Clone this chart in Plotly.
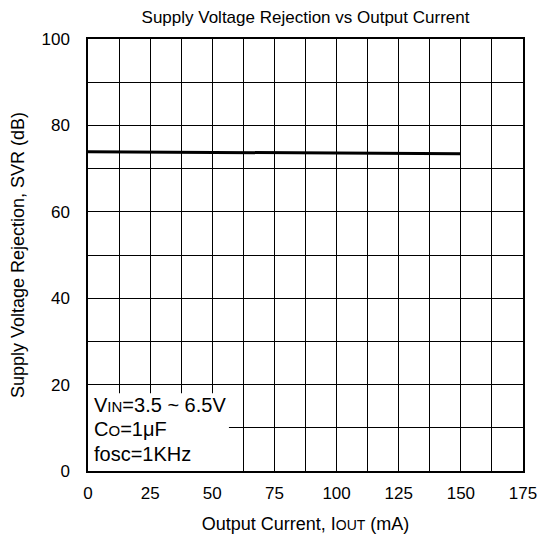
import plotly.graph_objects as go

iout_ma = [0, 12.5, 25, 37.5, 50, 62.5, 75, 87.5, 100, 112.5, 125, 137.5, 150]
svr_db = [73.9, 73.85, 73.8, 73.8, 73.7, 73.65, 73.6, 73.6, 73.55, 73.5, 73.5, 73.45, 73.45]

FONT = "Arial, Liberation Sans, sans-serif"

fig = go.Figure()
fig.add_trace(go.Scatter(x=iout_ma, y=svr_db, mode="lines",
                         line=dict(color="black", width=3), showlegend=False))

L, R, T, B = 88, 24, 39, 66
W, H = 547, 537
pw, ph = W - L - R, H - T - B

def px(x):
    return (x - L) / pw

def py(y):
    return (H - B - y) / ph

fig.add_shape(type="rect", xref="x", yref="y", x0=0, x1=56.7, y0=0, y1=18,
              fillcolor="white", line=dict(width=0), layer="between")

lines = ["V<span style='font-size:15px'>IN</span>=3.5 ~ 6.5V",
         "C<span style='font-size:15px'>O</span>=1μF",
         "fosc=1KHz"]
baselines = [413, 437, 462]
for t, bl in zip(lines, baselines):
    fig.add_annotation(text=t, xref="paper", yref="paper", x=px(92), y=py(bl + 5),
                       xanchor="left", yanchor="bottom", showarrow=False,
                       font=dict(family=FONT, size=20, color="black"))

fig.update_layout(
    width=W, height=H,
    margin=dict(l=L, r=R, t=T, b=B),
    paper_bgcolor="white", plot_bgcolor="white",
    font=dict(family=FONT, size=17, color="black"),
    title=dict(text="Supply Voltage Rejection vs Output Current",
               x=(L + pw / 2) / W, xanchor="center", y=1 - 17 / H, yanchor="middle",
               font=dict(family=FONT, size=17, color="black")),
)
fig.update_xaxes(range=[0, 175], tick0=0, dtick=25, showgrid=True, gridcolor="black", gridwidth=1,
                 minor=dict(dtick=12.5, showgrid=True, gridcolor="black", gridwidth=1),
                 showline=True, linecolor="black", linewidth=1.5, mirror=True,
                 ticks="", ticklabelstandoff=6, zeroline=False, automargin=False,
                 tickfont=dict(size=17),
                 title=dict(text="Output Current, I<span style='font-size:14px'>OUT</span> (mA)",
                            standoff=15, font=dict(size=18)))
fig.update_yaxes(range=[0, 100], tick0=0, dtick=20, showgrid=True, gridcolor="black", gridwidth=1,
                 minor=dict(dtick=10, showgrid=True, gridcolor="black", gridwidth=1),
                 showline=True, linecolor="black", linewidth=1.5, mirror=True,
                 ticks="", ticklabelstandoff=13, zeroline=False, automargin=False,
                 tickfont=dict(size=17),
                 title=dict(text="Supply Voltage Rejection, SVR (dB)", standoff=12, font=dict(size=18)))

fig.write_html("out.html", config={"displayModeBar": False},
               post_script="document.body.style.margin='0';")
